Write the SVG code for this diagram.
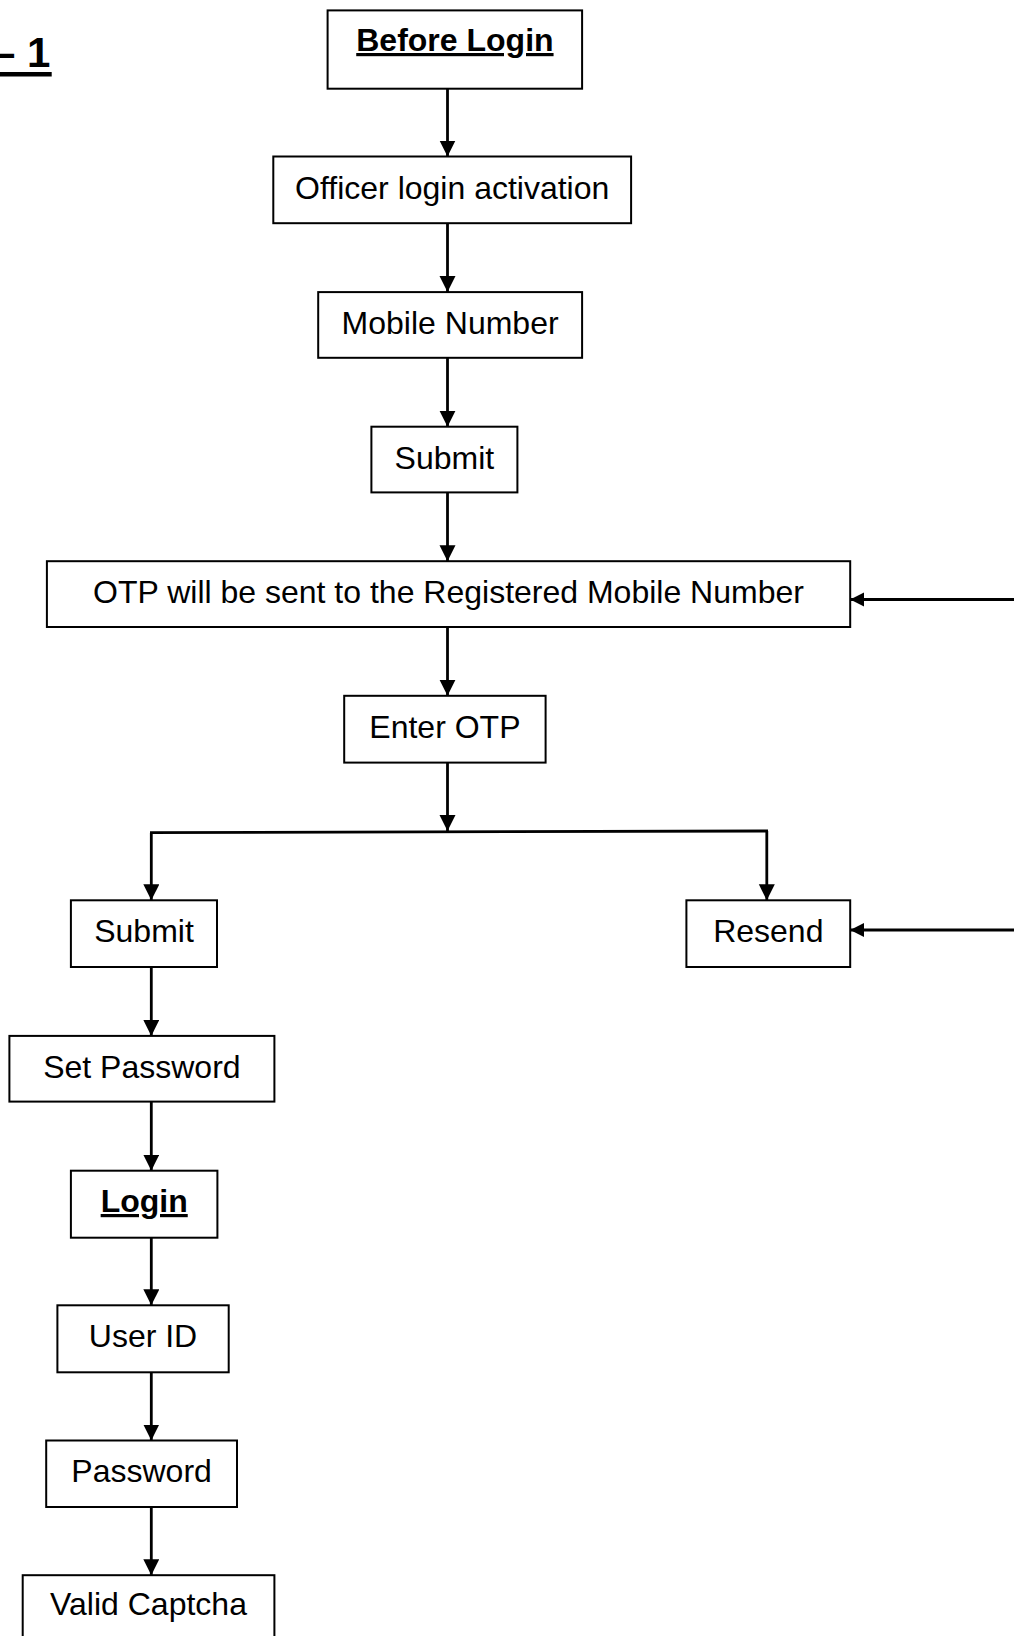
<svg xmlns="http://www.w3.org/2000/svg" width="1014" height="1636" viewBox="0 0 1014 1636">
<style>
  .box { fill: #ffffff; stroke: #000000; stroke-width: 2; }
  .lbl { font-family: "Liberation Sans", Arial, sans-serif; font-size: 32px; fill: #000000; text-anchor: middle; }
  .bold { font-weight: bold; text-decoration: underline; }
  .conn line { stroke: #000000; stroke-width: 2.8; fill: none; }
</style>
<defs>
  <marker id="arr" markerUnits="userSpaceOnUse" markerWidth="17" markerHeight="18" refX="16" refY="8" orient="auto">
    <path d="M0,0 L16,8 L0,16 z" fill="#000000"/>
  </marker>
  <marker id="arrs" markerUnits="userSpaceOnUse" markerWidth="15" markerHeight="15" refX="14" refY="7" orient="auto">
    <path d="M0,0 L14,7 L0,14 z" fill="#000000"/>
  </marker>
</defs>
<rect x="0" y="0" width="1014" height="1636" fill="#ffffff"/>

<g id="title">
  <text x="-8" y="66.5" style="font-family:'Liberation Sans', Arial, sans-serif; font-size:42px; font-weight:bold;">– 1</text>
  <rect x="0" y="72" width="51.7" height="4.5" fill="#000000"/>
</g>

<g class="conn" id="connectors">
  <line x1="447.5" y1="88.7" x2="447.5" y2="156.5" marker-end="url(#arr)"/>
  <line x1="447.5" y1="223.2" x2="447.5" y2="292.1" marker-end="url(#arr)"/>
  <line x1="447.5" y1="357.8" x2="447.5" y2="426.7" marker-end="url(#arr)"/>
  <line x1="447.5" y1="492.4" x2="447.5" y2="561.2" marker-end="url(#arr)"/>
  <line x1="447.5" y1="627" x2="447.5" y2="695.8" marker-end="url(#arr)"/>
  <line x1="447.5" y1="762.6" x2="447.5" y2="831" marker-end="url(#arr)"/>
  <line x1="150" y1="832.7" x2="768" y2="831"/>
  <line x1="151.3" y1="832.7" x2="151.3" y2="900.3" marker-end="url(#arr)"/>
  <line x1="766.8" y1="831" x2="766.8" y2="900.3" marker-end="url(#arr)"/>
  <line x1="1014" y1="599.5" x2="850.2" y2="599.5" marker-end="url(#arrs)"/>
  <line x1="1014" y1="930" x2="850.2" y2="930" marker-end="url(#arrs)"/>
  <line x1="151.3" y1="967" x2="151.3" y2="1035.9" marker-end="url(#arr)"/>
  <line x1="151.3" y1="1101.6" x2="151.3" y2="1170.7" marker-end="url(#arr)"/>
  <line x1="151.3" y1="1237.7" x2="151.3" y2="1305.3" marker-end="url(#arr)"/>
  <line x1="151.3" y1="1372.3" x2="151.3" y2="1440.5" marker-end="url(#arr)"/>
  <line x1="151.3" y1="1507" x2="151.3" y2="1575.2" marker-end="url(#arr)"/>
</g>

<g id="before-login">
  <rect class="box" x="327.6" y="10.4" width="254.5" height="78.3"/>
  <text class="lbl bold" x="454.9" y="51">Before Login</text>
</g>
<g id="officer-login-activation">
  <rect class="box" x="273.3" y="156.5" width="357.8" height="66.7"/>
  <text class="lbl" x="452.2" y="198.5">Officer login activation</text>
</g>
<g id="mobile-number">
  <rect class="box" x="318.2" y="292.1" width="263.9" height="65.7"/>
  <text class="lbl" x="450.1" y="334">Mobile Number</text>
</g>
<g id="submit-1">
  <rect class="box" x="371.4" y="426.7" width="146" height="65.7"/>
  <text class="lbl" x="444.4" y="468.5">Submit</text>
</g>
<g id="otp-sent">
  <rect class="box" x="46.9" y="561.2" width="803.3" height="65.8"/>
  <text class="lbl" x="448.5" y="603">OTP will be sent to the Registered Mobile Number</text>
</g>
<g id="enter-otp">
  <rect class="box" x="344.2" y="695.8" width="201.4" height="66.8"/>
  <text class="lbl" x="444.9" y="737.5">Enter OTP</text>
</g>
<g id="submit-2">
  <rect class="box" x="70.9" y="900.3" width="146.1" height="66.7"/>
  <text class="lbl" x="144" y="942">Submit</text>
</g>
<g id="resend">
  <rect class="box" x="686.4" y="900.3" width="163.8" height="66.7"/>
  <text class="lbl" x="768.3" y="942">Resend</text>
</g>
<g id="set-password">
  <rect class="box" x="9.4" y="1035.9" width="265" height="65.7"/>
  <text class="lbl" x="141.9" y="1077.5">Set Password</text>
</g>
<g id="login">
  <rect class="box" x="70.9" y="1170.7" width="146.5" height="67"/>
  <text class="lbl bold" x="144.2" y="1212">Login</text>
</g>
<g id="user-id">
  <rect class="box" x="57.4" y="1305.3" width="171.3" height="67"/>
  <text class="lbl" x="143" y="1347">User ID</text>
</g>
<g id="password">
  <rect class="box" x="46.2" y="1440.5" width="190.8" height="66.5"/>
  <text class="lbl" x="141.6" y="1482">Password</text>
</g>
<g id="valid-captcha">
  <rect class="box" x="22.7" y="1575.2" width="251.7" height="80"/>
  <text class="lbl" x="148.5" y="1615">Valid Captcha</text>
</g>
</svg>
